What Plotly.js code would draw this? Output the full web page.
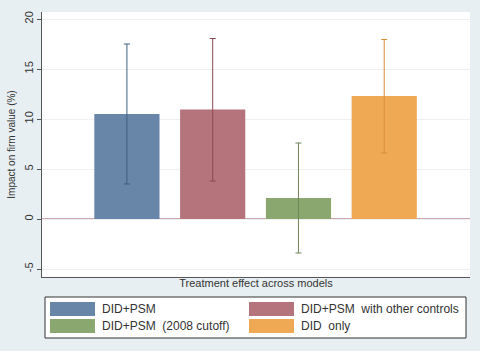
<!DOCTYPE html>
<html><head><meta charset="utf-8">
<script src="https://cdn.plot.ly/plotly-3.0.1.min.js"></script>
<style>html,body{margin:0;padding:0;background:#e8eff2;}#chart{width:480px;height:351px;}</style>
</head><body><div id="chart"></div>
<script>
var models = ["DID+PSM", "DID+PSM  with other controls", "DID+PSM  (2008 cutoff)", "DID  only"];
var effects = [10.5, 10.95, 2.1, 12.3];
var upper = [17.5, 18.05, 7.6, 17.95];
var lower = [3.5, 3.8, -3.4, 6.6];
var barColors = ["#6786a8", "#b5737c", "#8ba770", "#efa955"];
var errColors = ["#3f5f80", "#8c4955", "#6e8456", "#d88c35"];
var yTicks = [-5, 0, 5, 10, 15, 20];

var W = 480, H = 351, mL = 42, mR = 10, mT = 12, mB = 74;
var pw = W - mL - mR, ph = H - mT - mB;
function px(x){ return (x - mL) / pw; }
function py(y){ return (H - mB - y) / ph; }

var traces = models.map(function(m, i){
  return {
    type: "bar", x: [i + 1], y: [effects[i]], name: m, width: 0.76,
    marker: {color: barColors[i], line: {width: 0}},
    error_y: {type: "data", symmetric: false,
      array: [upper[i] - effects[i]], arrayminus: [effects[i] - lower[i]],
      color: errColors[i], thickness: 1, width: 3},
    showlegend: false, hoverinfo: "skip"
  };
});

var shapes = [
  {type: "line", xref: "paper", yref: "y", x0: 0, x1: 1, y0: 0, y1: 0,
   line: {color: "#9a4f5b", width: 1}, layer: "below"},
  {type: "rect", xref: "paper", yref: "paper", x0: px(45), x1: px(466), y0: py(297), y1: py(338),
   fillcolor: "#ffffff", line: {color: "#333333", width: 1}}
];
var annotations = [];
var legPos = [[50, 309], [249, 309], [50, 326], [249, 326]];
models.forEach(function(m, i){
  var p = legPos[i];
  shapes.push({type: "rect", xref: "paper", yref: "paper",
    x0: px(p[0]), x1: px(p[0] + 45), y0: py(p[1] - 7), y1: py(p[1] + 7),
    fillcolor: barColors[i], line: {width: 0}});
  annotations.push({xref: "paper", yref: "paper", x: px(p[0] + 50), y: py(p[1]),
    xanchor: "left", yanchor: "middle", showarrow: false, text: m.replace(/  /g, "&nbsp;&nbsp;"),
    font: {family: "Liberation Sans, Arial", size: 12, color: "#333333"}});
});

var layout = {
  width: W, height: H,
  margin: {l: mL, r: mR, t: mT, b: mB, pad: 0},
  paper_bgcolor: "#e8eff2", plot_bgcolor: "#ffffff",
  showlegend: false,
  xaxis: {range: [0.01, 5.0], showticklabels: false, ticks: "", showgrid: false, zeroline: false,
    showline: true, linecolor: "#555555", linewidth: 1, fixedrange: true,
    title: {text: "Treatment effect across models", standoff: 2,
      font: {family: "Liberation Sans, Arial", size: 11, color: "#333333"}}},
  yaxis: {range: [-5.8, 20.7], tickvals: yTicks, ticktext: yTicks.map(String), tickangle: -90,
    ticks: "outside", ticklen: 4, tickcolor: "#555555", showline: true, linecolor: "#555555", linewidth: 1,
    showgrid: true, gridcolor: "#eef0f1", zeroline: false,
    tickfont: {family: "Liberation Sans, Arial", size: 11, color: "#333333"},
    title: {text: "Impact on firm value (%)", standoff: 5,
      font: {family: "Liberation Sans, Arial", size: 10, color: "#333333"}}},
  bargap: 0.2, shapes: shapes, annotations: annotations
};
Plotly.newPlot("chart", traces, layout, {displayModeBar: false, staticPlot: true});
</script></body></html>
